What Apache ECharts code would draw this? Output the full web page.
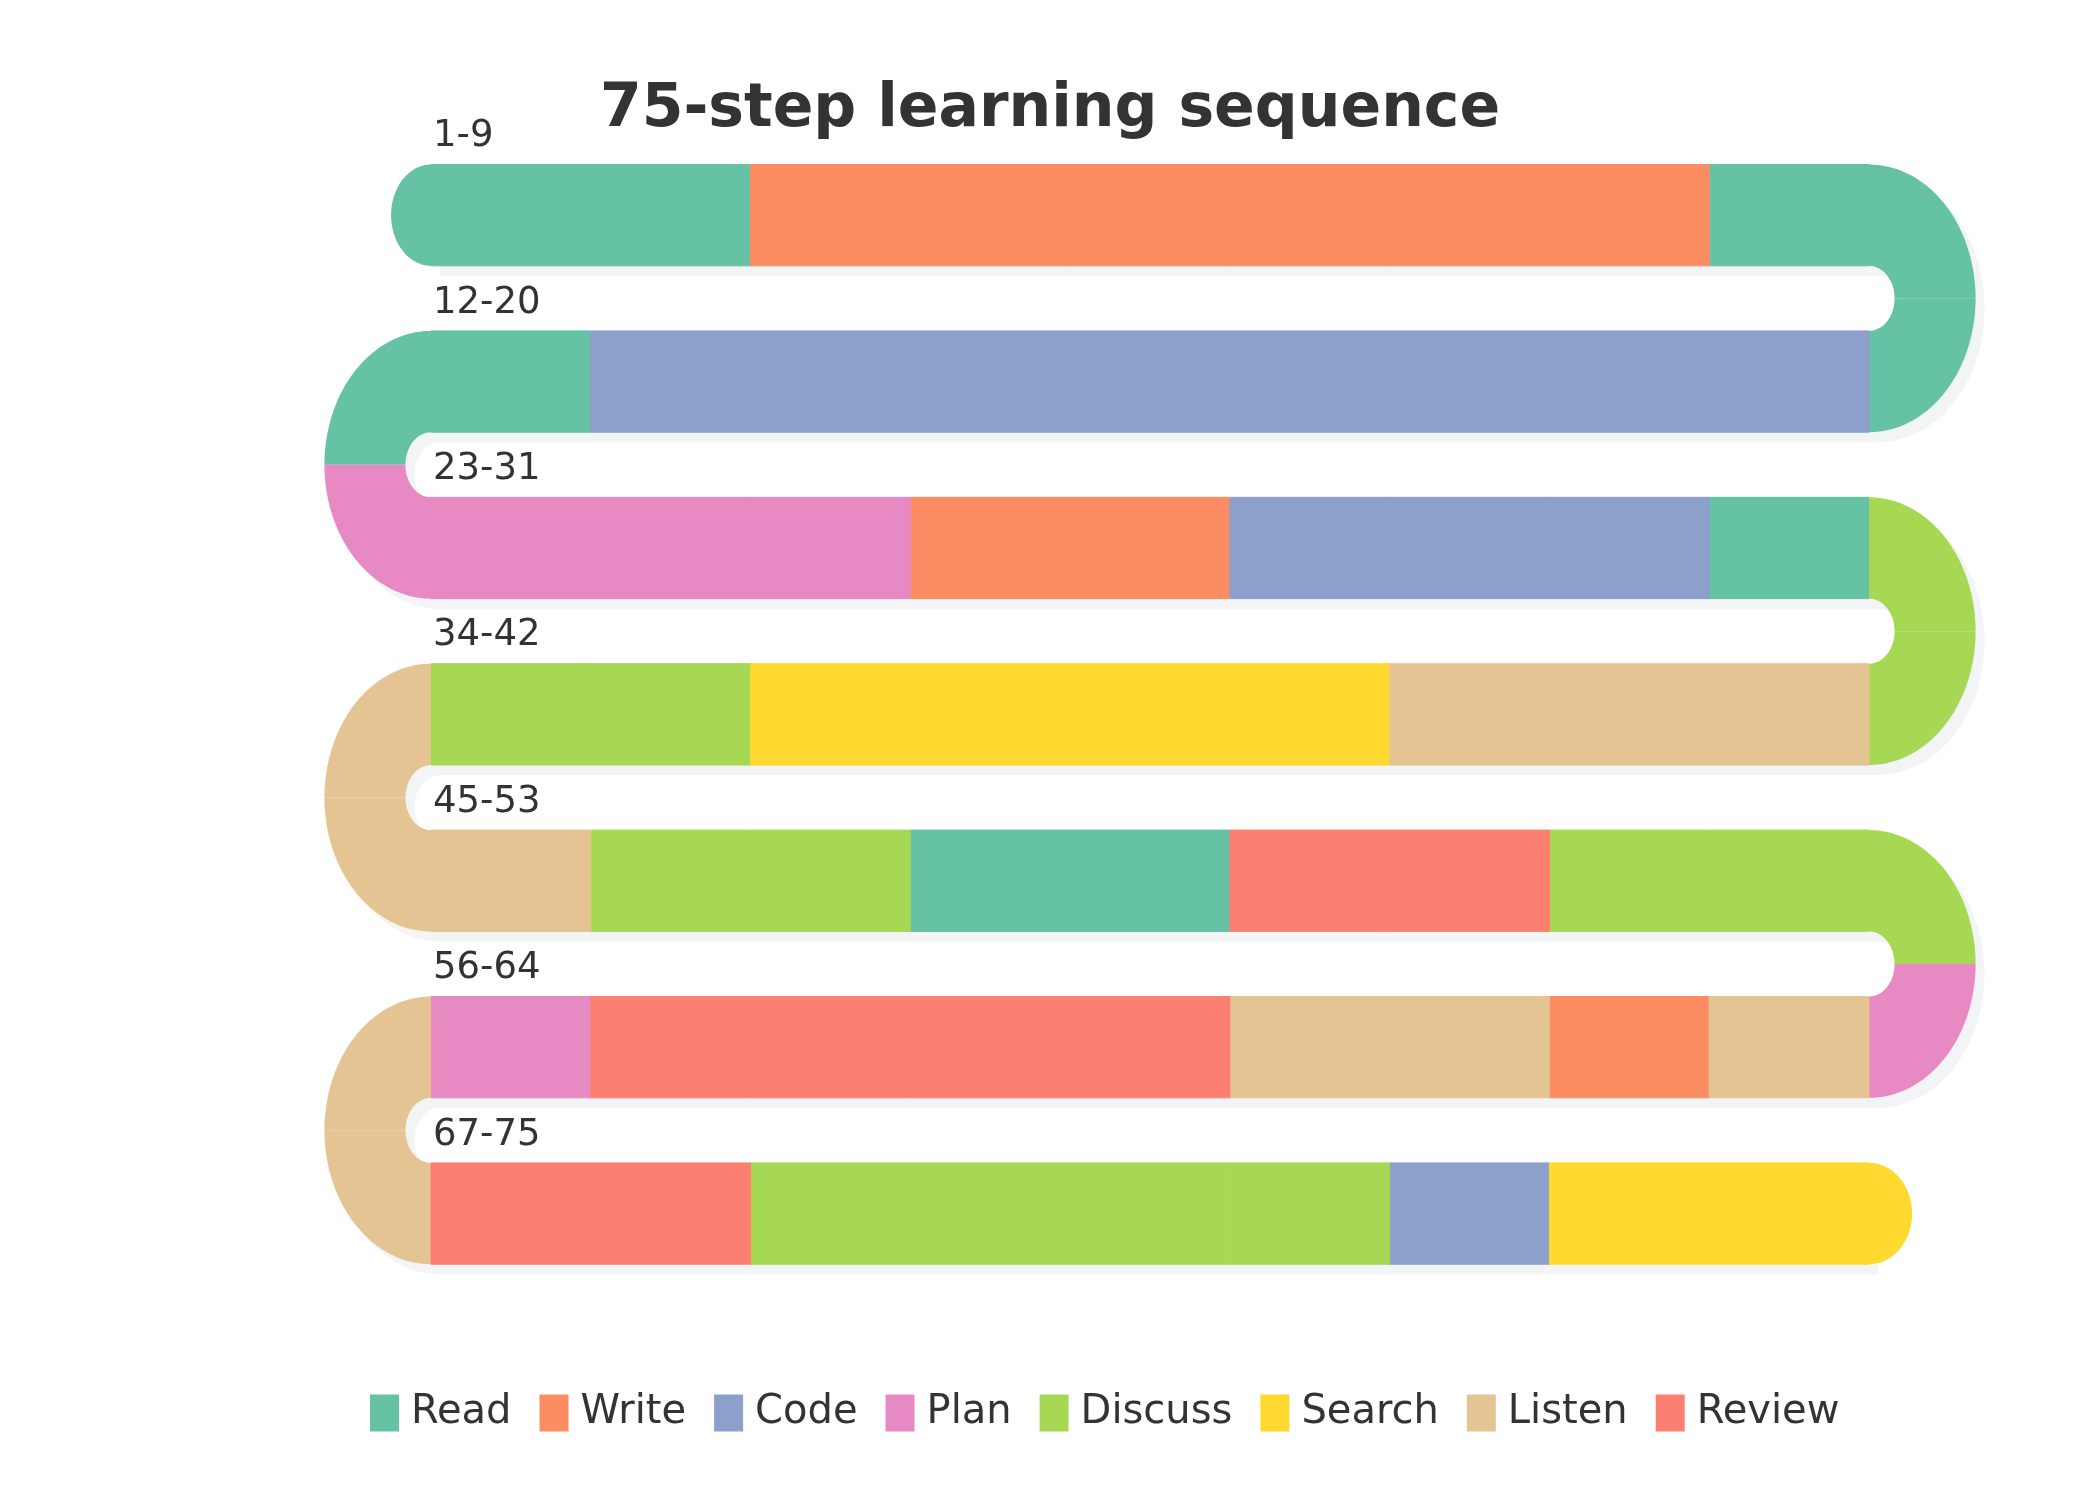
<!DOCTYPE html>
<html>
<head>
<meta charset="utf-8">
<title>75-step learning sequence</title>
<script src="https://cdn.jsdelivr.net/npm/echarts@6/dist/echarts.min.js"></script>
<style>
  html, body { margin: 0; padding: 0; background: #fff; }
  #chart { width: 2100px; height: 1500px; }
</style>
</head>
<body>
<div id="chart"></div>
<script>
const categories = ['Read', 'Write', 'Code', 'Plan', 'Discuss', 'Search', 'Listen', 'Review']
const colors = ['#66c2a5', '#fc8d62', '#8da0cb', '#e78ac3', '#a6d854', '#ffd92f', '#e5c494', '#fb8072']

// activity of every step, in the order the snake runs (9 straight + 2 in each turn)
const steps = [
  'Read', 'Read', 'Write', 'Write', 'Write', 'Write', 'Write', 'Write', 'Read', 'Read', 'Read',
  'Code', 'Code', 'Code', 'Code', 'Code', 'Code', 'Code', 'Code', 'Read', 'Read', 'Plan',
  'Plan', 'Plan', 'Plan', 'Write', 'Write', 'Code', 'Code', 'Code', 'Read', 'Discuss', 'Discuss',
  'Listen', 'Listen', 'Listen', 'Search', 'Search', 'Search', 'Search', 'Discuss', 'Discuss', 'Listen', 'Listen',
  'Listen', 'Discuss', 'Discuss', 'Read', 'Read', 'Review', 'Review', 'Discuss', 'Discuss', 'Discuss', 'Plan',
  'Listen', 'Write', 'Listen', 'Listen', 'Review', 'Review', 'Review', 'Review', 'Plan', 'Listen', 'Listen',
  'Review', 'Review', 'Discuss', 'Discuss', 'Discuss', 'Discuss', 'Code', 'Search', 'Search'
]
const rowLabels = ['1-9', '12-20', '23-31', '34-42', '45-53', '56-64', '67-75']

const PER_ROW = 9
const BLOCK = 11
const BAR_H = 0.609
const RY_OUT = (1 + BAR_H) / 2
const RY_IN = (1 - BAR_H) / 2
const RX_OUT = 0.667
const RX_IN = 0.16
const CAP_START = 0.25
const CAP_END = 0.27
const SHADOW_DX = 9
const SHADOW_DY = 10
const SHADOW_COLOR = '#f3f4f6'
const FONT = '"DejaVu Sans", sans-serif'

const chart = echarts.init(document.getElementById('chart'))

// where step i sits: a cell on a row, or one half of a turn
function placeStep(i) {
  const row = Math.floor(i / BLOCK)
  const k = i % BLOCK
  if (k < PER_ROW) {
    const col = row % 2 === 0 ? k : PER_ROW - 1 - k
    return { kind: 'bar', row, col }
  }
  return { kind: 'turn', row, right: row % 2 === 0, top: k === PER_ROW }
}

function ellipsePts(api, cx, cy, rx, ry, a0, a1, n) {
  const pts = []
  for (let j = 0; j <= n; j++) {
    const t = (a0 + (a1 - a0) * j / n) * Math.PI / 180
    pts.push(api.coord([cx + rx * Math.cos(t), cy + ry * Math.sin(t)]))
  }
  return pts
}

function halfRing(api, row, right, a0, a1) {
  const cx = right ? PER_ROW : 0
  const cy = row + RY_OUT
  const outer = ellipsePts(api, cx, cy, RX_OUT, RY_OUT, a0, a1, 60)
  const inner = ellipsePts(api, cx, cy, RX_IN, RY_IN, a1, a0, 30)
  return outer.concat(inner)
}

function turnAngles(right, top) {
  if (right) return top ? [-90, 0] : [0, 90]
  return top ? [-90, -180] : [180, 90]
}

function barRect(api, row, x0, x1) {
  const p0 = api.coord([x0, row])
  const p1 = api.coord([x1, row + BAR_H])
  return { x: p0[0], y: p0[1], width: p1[0] - p0[0], height: p1[1] - p0[1] }
}

function capPts(api, row, x, rx, a0, a1) {
  return ellipsePts(api, x, row + BAR_H / 2, rx, BAR_H / 2, a0, a1, 40)
}

function renderStep(params, api) {
  const i = api.value(2)
  const color = api.visual('color')
  const pos = placeStep(i)
  const children = []
  if (pos.kind === 'bar') {
    children.push({
      type: 'rect',
      shape: barRect(api, pos.row, pos.col, pos.col + 1),
      style: { fill: color, stroke: color, lineWidth: 1 }
    })
  } else {
    const [a0, a1] = turnAngles(pos.right, pos.top)
    children.push({
      type: 'polygon',
      shape: { points: halfRing(api, pos.row, pos.right, a0, a1) },
      style: { fill: color }
    })
  }
  if (i === 0) {
    children.push({
      type: 'polygon',
      shape: { points: capPts(api, 0, 0, CAP_START, 90, 270) },
      style: { fill: color }
    })
  }
  if (i === steps.length - 1) {
    const row = pos.row
    const x = row % 2 === 0 ? PER_ROW : 0
    const a = row % 2 === 0 ? [-90, 90] : [90, 270]
    children.push({
      type: 'polygon',
      shape: { points: capPts(api, row, x, CAP_END, a[0], a[1]) },
      style: { fill: color }
    })
  }
  return { type: 'group', children }
}

// soft drop shadow under rows and turns
function renderShadow(params, api) {
  const row = api.value(2)
  const isTurn = api.value(3) === 1
  let child
  if (isTurn) {
    const right = row % 2 === 0
    const a = right ? [-90, 90] : [-90, -270]
    child = { type: 'polygon', shape: { points: halfRing(api, row, right, a[0], a[1]) }, style: { fill: SHADOW_COLOR } }
  } else {
    child = { type: 'rect', shape: barRect(api, row, 0, PER_ROW), style: { fill: SHADOW_COLOR } }
  }
  return { type: 'group', x: SHADOW_DX, y: SHADOW_DY, children: [child] }
}

function renderLabel(params, api) {
  const row = api.value(2)
  const p = api.coord([0, row])
  return {
    type: 'text',
    x: p[0] + 2,
    y: p[1] - 28,
    style: {
      text: rowLabels[row],
      fill: '#333333',
      font: '37px ' + FONT,
      align: 'left',
      verticalAlign: 'middle'
    }
  }
}

const nRows = rowLabels.length
const shadowData = []
for (let r = 0; r < nRows; r++) {
  shadowData.push([4.5, r + 0.3, r, 0])
  if (r < nRows - 1) shadowData.push([4.5, r + 0.3, r, 1])
}

const stepSeries = categories.map((name, c) => ({
  name,
  type: 'custom',
  coordinateSystem: 'cartesian2d',
  renderItem: renderStep,
  itemStyle: { color: colors[c] },
  encode: { x: 0, y: 1 },
  data: steps.map((s, i) => [s, i]).filter(d => d[0] === name).map(d => {
    const pos = placeStep(d[1])
    return [4.5, pos.row + 0.3, d[1]]
  }),
  z: 2
}))

const option = {
  animation: false,
  backgroundColor: '#ffffff',
  color: colors,
  title: {
    text: '75-step learning sequence',
    left: 'center',
    top: 75,
    textStyle: { fontSize: 60, fontWeight: 'bold', color: '#333333', fontFamily: FONT }
  },
  legend: {
    data: categories,
    left: 365,
    top: 1388,
    icon: 'rect',
    itemWidth: 29,
    itemHeight: 37,
    itemGap: 28,
    selectedMode: false,
    textStyle: { fontSize: 40, color: '#333333', fontFamily: FONT, padding: [0, 0, 0, 7] }
  },
  grid: { left: 431, top: 164.5, width: 1438, height: 1164.8 },
  xAxis: { type: 'value', min: 0, max: PER_ROW, show: false },
  yAxis: { type: 'value', min: 0, max: nRows, inverse: true, show: false },
  series: [
    {
      name: 'shadow',
      type: 'custom',
      coordinateSystem: 'cartesian2d',
      renderItem: renderShadow,
      encode: { x: 0, y: 1 },
      data: shadowData,
      silent: true,
      z: 1
    },
    ...stepSeries,
    {
      name: 'labels',
      type: 'custom',
      coordinateSystem: 'cartesian2d',
      renderItem: renderLabel,
      encode: { x: 0, y: 1 },
      data: rowLabels.map((l, r) => [0.5, r + 0.3, r]),
      silent: true,
      z: 3
    }
  ]
}

chart.setOption(option)
</script>
</body>
</html>
